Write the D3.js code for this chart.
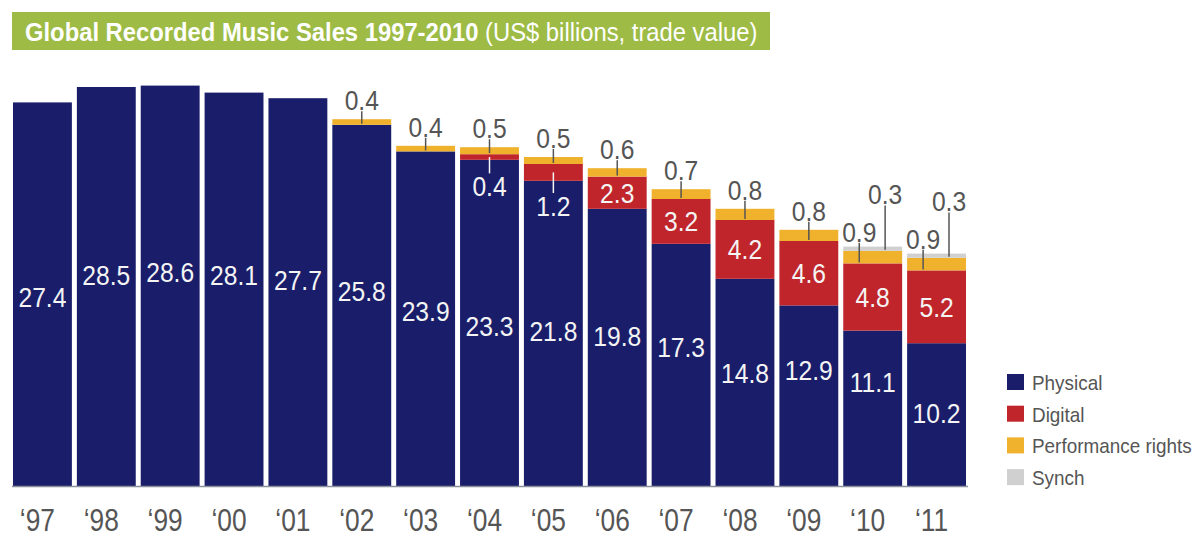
<!DOCTYPE html>
<html>
<head>
<meta charset="utf-8">
<script src="https://cdn.jsdelivr.net/npm/d3@7"></script>
<style>
  html, body { margin: 0; padding: 0; background: #ffffff; }
  svg { display: block; }
  text { font-family: "Liberation Sans", Arial, Helvetica, sans-serif; }
</style>
</head>
<body>
<svg id="chart" width="1195" height="536"></svg>
<script>
// ---- data (US$ billions, trade value) ----
const years = ["‘97", "‘98", "‘99", "‘00", "‘01", "‘02", "‘03", "‘04", "‘05", "‘06", "‘07", "‘08", "‘09", "‘10", "‘11"];
const physical = [27.4, 28.5, 28.6, 28.1, 27.7, 25.8, 23.9, 23.3, 21.8, 19.8, 17.3, 14.8, 12.9, 11.1, 10.2];
const digital = [0, 0, 0, 0, 0, 0, 0, 0.4, 1.2, 2.3, 3.2, 4.2, 4.6, 4.8, 5.2];
const performance = [0, 0, 0, 0, 0, 0.4, 0.4, 0.5, 0.5, 0.6, 0.7, 0.8, 0.8, 0.9, 0.9];
const synch = [0, 0, 0, 0, 0, 0, 0, 0, 0, 0, 0, 0, 0, 0.3, 0.3];
const seriesNames = ["Physical", "Digital", "Performance rights", "Synch"];

// ---- label placement (in value units along the y scale) ----
const physicalLabelAt = [13.5, 15.1, 15.3, 15.1, 14.7, 13.9, 12.5, 11.4, 11.1, 10.7, 9.9, 8.1, 8.3, 7.4, 5.2];
const digitalLabelBelow = { 7: 21.4, 8: 20.0 };   // thin digital bands labelled below with a leader

const colors = {
  Physical: "#1a1e6a",
  Digital: "#c0252b",
  "Performance rights": "#f0b12c",
  Synch: "#d0d0d0"
};

const svg = d3.select("#chart");

// condensed text: a regular sans squeezed horizontally around its anchor
function narrowText(parent, x, y, str, size, squeeze) {
  return parent.append("text")
    .attr("transform", `translate(${x},${y}) scale(${squeeze},1)`)
    .attr("font-size", size)
    .text(str);
}

// ---- title bar ----
const title = svg.append("g");
title.append("rect")
  .attr("x", 12).attr("y", 12).attr("width", 758).attr("height", 38)
  .attr("fill", "#9dbb45");
const tt = title.append("text")
  .attr("fill", "#ffffff")
  .attr("font-size", 26);
tt.append("tspan").attr("font-weight", "bold").text("Global Recorded Music Sales 1997-2010 ");
tt.append("tspan").text("(US$ billions, trade value)");
const titleW = tt.node().getComputedTextLength();
tt.attr("transform", `translate(25,40.5) scale(${733 / titleW},1)`);

// ---- scales ----
const x = d3.scaleBand()
  .domain(years)
  .range([13, 966])
  .paddingInner(0.078)
  .paddingOuter(0);

const y = d3.scaleLinear()
  .domain([0, 30])
  .range([486, 66]);

// ---- stacked bars ----
const rows = years.map((yr, i) => ({
  year: yr,
  Physical: physical[i],
  Digital: digital[i],
  "Performance rights": performance[i],
  Synch: synch[i]
}));
const stacked = d3.stack().keys(seriesNames)(rows);

svg.append("g")
  .selectAll("g")
  .data(stacked)
  .join("g")
  .attr("fill", d => colors[d.key])
  .selectAll("rect")
  .data(d => d)
  .join("rect")
  .attr("x", d => x(d.data.year))
  .attr("width", x.bandwidth())
  .attr("y", d => y(d[1]))
  .attr("height", d => y(d[0]) - y(d[1]));

// ---- baseline ----
svg.append("line")
  .attr("x1", 12).attr("x2", 968)
  .attr("y1", y(0) + 0.5).attr("y2", y(0) + 0.5)
  .attr("stroke", "#8a8f9c").attr("stroke-width", 1.5);

// ---- x axis labels ----
const xAxis = d3.axisBottom(x).tickSize(0).tickPadding(0);
const axisG = svg.append("g")
  .attr("transform", `translate(0, ${y(0)})`)
  .call(xAxis);
axisG.select(".domain").remove();
axisG.selectAll("text")
  .attr("font-size", 31)
  .attr("fill", "#555555")
  .attr("font-family", null)
  .attr("y", 0)
  .attr("dy", 0)
  .attr("transform", "translate(-5,45) scale(0.85,1)");

// ---- value labels ----
const labels = svg.append("g").attr("text-anchor", "middle");
const lead = svg.append("g").attr("stroke", "#555555").attr("stroke-width", 1.5);
const cx = i => x(years[i]) + x.bandwidth() / 2;
const VAL = 28, SQ = 0.88, MID = 10;   // font size, squeeze, half cap-height offset

years.forEach((yr, i) => {
  // physical
  narrowText(labels, cx(i), y(physicalLabelAt[i]) + MID, physical[i].toFixed(1), VAL, SQ)
    .attr("fill", "#f4f4f4");

  // digital
  if (digital[i] > 0) {
    const bot = physical[i], top = physical[i] + digital[i];
    if (digitalLabelBelow[i] !== undefined) {
      const ly = y(digitalLabelBelow[i]);
      narrowText(labels, cx(i), ly + MID, digital[i].toFixed(1), VAL, SQ)
        .attr("fill", "#f4f4f4");
      lead.append("line")
        .attr("x1", cx(i)).attr("x2", cx(i))
        .attr("y1", y((bot + top) / 2)).attr("y2", ly - 13)
        .attr("stroke", "#f4f4f4");
    } else {
      narrowText(labels, cx(i), y((bot + top) / 2) + MID, digital[i].toFixed(1), VAL, SQ)
        .attr("fill", "#f4f4f4");
    }
  }

  // performance rights (above the bar)
  if (performance[i] > 0) {
    const pBot = physical[i] + digital[i];
    const pTop = pBot + performance[i];
    const hasSynch = synch[i] > 0;
    const px = hasSynch ? x(yr) + 16 : cx(i);
    const ly = y(pTop) - 19;
    narrowText(labels, px, ly + MID, performance[i].toFixed(1), VAL, SQ)
      .attr("fill", "#555555");
    lead.append("line")
      .attr("x1", px).attr("x2", px)
      .attr("y1", ly + 11).attr("y2", y(pBot) - 1);
  }

  // synch
  if (synch[i] > 0) {
    const sBot = physical[i] + digital[i] + performance[i];
    const sTop = sBot + synch[i];
    const sx = x(yr) + x.bandwidth() - 17;
    const ly = y(sTop) - 53;
    narrowText(labels, sx, ly + MID, synch[i].toFixed(1), VAL, SQ)
      .attr("fill", "#555555");
    lead.append("line")
      .attr("x1", sx).attr("x2", sx)
      .attr("y1", ly + 12).attr("y2", y(sBot) - 1);
  }
});

// ---- legend ----
const legend = svg.append("g").attr("transform", "translate(1007, 382)");
const li = legend.selectAll("g")
  .data(seriesNames)
  .join("g")
  .attr("transform", (d, i) => `translate(0, ${i * 31.7})`);
li.append("rect")
  .attr("x", 0).attr("y", -8).attr("width", 17).attr("height", 16)
  .attr("fill", d => colors[d]);
li.append("text")
  .attr("transform", "translate(25,8) scale(0.9,1)")
  .attr("font-size", 21).attr("fill", "#555555")
  .text(d => d);
</script>
</body>
</html>
